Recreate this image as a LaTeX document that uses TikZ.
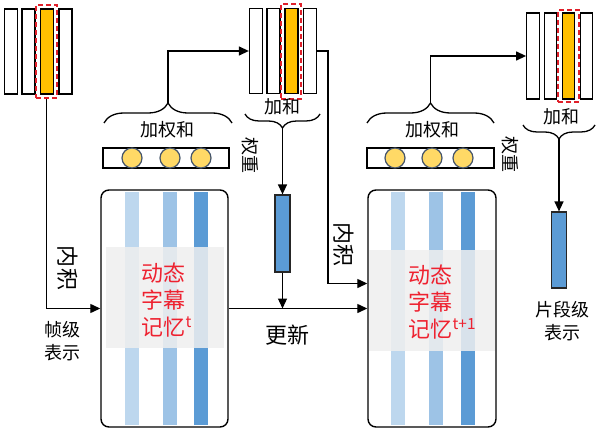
\documentclass[tikz,border=0pt]{standalone}
\usepackage{fontspec}
\setmainfont{Noto Sans CJK SC}
\usetikzlibrary{arrows.meta,decorations.pathreplacing}
\definecolor{orng}{HTML}{FFC000}
\definecolor{lb}{HTML}{BDD7EE}
\definecolor{mb}{HTML}{9DC3E6}
\definecolor{db}{HTML}{5B9BD5}
\definecolor{circf}{HTML}{FFD966}
\definecolor{circd}{HTML}{44546A}
\definecolor{redt}{HTML}{EE2230}
\definecolor{redd}{HTML}{E0202A}
\definecolor{bandc}{HTML}{EFEFEF}
\begin{document}
\begin{tikzpicture}[x=1pt,y=1pt,line width=1.3pt,
  bar/.style={draw=black,line width=1.3pt,fill=white,minimum width=13pt,minimum height=85pt,inner sep=0pt},
  obar/.style={bar,fill=orng},
  sel/.style={draw=redd,dash pattern=on 5pt off 3pt,line width=1.4pt,inner sep=0pt,minimum width=21pt},
  wbar/.style={draw=black,line width=1.4pt,minimum width=126pt,minimum height=20pt,inner sep=0pt},
  dot/.style={circle,draw=circd,line width=1.2pt,fill=circf,minimum size=20pt,inner sep=0pt},
  vbar/.style={draw=black!85,line width=1.2pt,fill=db,minimum width=15pt,minimum height=77pt,inner sep=0pt},
  mem/.style={draw=black,line width=1.4pt,rounded corners=8pt,minimum width=127pt,minimum height=237pt,inner sep=0pt},
  arr/.style={-{Triangle[length=10pt,width=9pt]},line width=1.3pt},
  brc/.style={decorate,decoration={brace,amplitude=#1},line width=1.3pt},
  lab/.style={font=\fontsize{18}{23}\selectfont,inner sep=0pt,align=center},
  blab/.style={font=\fontsize{22}{27}\selectfont,inner sep=0pt},
  memtxt/.style={font=\fontsize{22}{27}\selectfont,text=redt,align=left,anchor=west,inner sep=0pt}
]
\useasboundingbox (0,0) rectangle (599,-438);

% ---------- stack 1 ----------
\node[bar]  (s1a) at (11,-51.5) {};
\node[bar]  (s1b) at (28.5,-51.5) {};
\node[obar] (s1c) at (47,-51.5) {};
\node[bar]  (s1d) at (65.5,-51.5) {};
\node[sel,minimum height=93pt] (sel1) at (46.5,-51.5) {};

% ---------- stack 2 ----------
\node[bar]  (s2a) at (256,-51) {};
\node[bar]  (s2b) at (273.5,-51) {};
\node[obar] (s2c) at (291.5,-51) {};
\node[bar]  (s2d) at (310,-51) {};
\node[sel,minimum height=95pt,minimum width=20pt] (sel2) at (291,-51.5) {};

% ---------- stack 3 ----------
\node[bar,minimum height=86pt,minimum width=12.5pt]  (s3a) at (533,-56) {};
\node[bar,minimum height=86pt,minimum width=12.5pt]  (s3b) at (550.5,-56) {};
\node[obar,minimum height=86pt,minimum width=12pt] (s3c) at (568.5,-56) {};
\node[bar,minimum height=86pt,minimum width=12.5pt]  (s3d) at (586.5,-56) {};
\node[sel,minimum height=92pt] (sel3) at (568.5,-56) {};

% ---------- weight bars ----------
\node[wbar] (wb1) at (166,-158) {};
\node[dot] (c11) at (132,-158) {};
\node[dot] (c12) at (170,-158) {};
\node[dot] (c13) at (201,-158) {};
\node[wbar,minimum width=127pt] (wb2) at (430.5,-158) {};
\node[dot] (c21) at (395,-158) {};
\node[dot] (c22) at (432,-158) {};
\node[dot] (c23) at (463,-158) {};

% ---------- memory box 1 ----------
\fill[lb] (125,-192) rectangle (139,-425);
\fill[mb] (163,-192) rectangle (177,-425);
\fill[db] (194,-192) rectangle (208,-425);
\fill[bandc,opacity=0.85] (106,-247) rectangle (224,-348);
\node[mem] (m1) at (164.5,-308.5) {};
\node[memtxt] (mt1) at (141,-300) {动态\\字幕\\记忆\textsuperscript{t}};

% ---------- memory box 2 ----------
\fill[lb] (391,-192) rectangle (405,-425);
\fill[mb] (429,-192) rectangle (443,-425);
\fill[db] (461,-192) rectangle (475,-425);
\fill[bandc,opacity=0.85] (369,-250) rectangle (495,-351);
\node[mem,minimum width=128pt] (m2) at (432,-308.5) {};
\node[memtxt] (mt2) at (408,-302) {动态\\字幕\\记忆\textsuperscript{t+1}};

% ---------- blue vectors ----------
\node[vbar] (v2) at (282.5,-233.5) {};
\node[vbar,minimum height=76pt] (v3) at (559,-250) {};

% ---------- braces ----------
\draw[brc=20pt] (104,-123) -- (232,-123);
\coordinate (b1tip) at (168,-103);
\draw[brc=20pt] (367,-123) -- (494,-123);
\coordinate (b2tip) at (430.5,-103);
\draw[brc=14pt] (320,-114) -- (245,-114);
\coordinate (b3tip) at (282.5,-128);
\draw[brc=14pt] (595,-125) -- (523,-125);
\coordinate (b4tip) at (559,-139);

% ---------- labels ----------
\node[lab] (t1) at (167,-130) {加权和};
\node[lab] (t2) at (432,-130) {加权和};
\node[lab] (h1) at (282,-107) {加和};
\node[lab] (h2) at (561,-117) {加和};
\node[lab,rotate=-90] (w1) at (250,-156) {权重};
\node[lab,rotate=-90] (w2) at (510,-155) {权重};
\node[lab] (f1) at (62,-341) {帧级\\表示};
\node[lab] (f2) at (562,-321) {片段级\\表示};
\node[blab,rotate=-90] (n1) at (68,-268) {内积};
\node[blab,rotate=-90] (n2) at (344,-245) {内积};
\node[blab] (u1) at (287,-335) {更新};

% ---------- connectors ----------
\coordinate (in1) at (m1.west);
\draw[arr] (sel1.south) |- (in1);
\draw[arr] (b1tip) |- (s2a.west);
\coordinate (k2) at (328,-51);
\coordinate (in2) at ([yshift=25pt]m2.west);
\draw[arr] (s2d.east) -- (k2) |- (in2);
\draw[arr] (b3tip) -- (v2.north);
\coordinate (j1) at (v2.south |- m1.east);
\draw[arr] (v2.south) -- (j1);
\draw[arr] (m1.east) -- (m2.west);
\draw[arr] (b2tip) |- (s3a.west);
\draw[arr] (b4tip) -- (v3.north);
\end{tikzpicture}
\end{document}
